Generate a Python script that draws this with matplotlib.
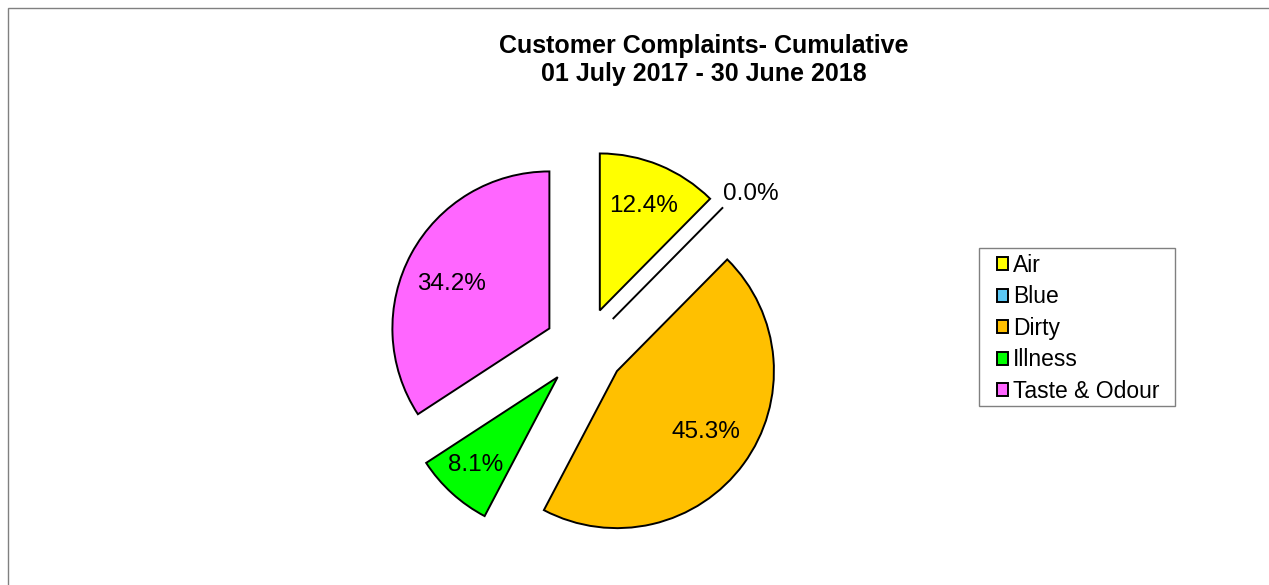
import numpy as np
import matplotlib.pyplot as plt
from matplotlib.patches import Rectangle

plt.rcParams['font.family'] = ['Liberation Sans', 'DejaVu Sans']

categories = ["Air", "Blue", "Dirty", "Illness", "Taste & Odour"]
shares = [12.4, 0.0, 45.3, 8.1, 34.2]
colours = ["#FFFF00", "#5BC8F5", "#FFC000", "#00FF00", "#FF66FF"]

fig = plt.figure(figsize=[12.69, 5.85], dpi=100)

# outer chart border (only top and left visible in the reference)
fig.patches.append(Rectangle((8 / 1269, -0.1), 2, (585 - 8) / 585 + 0.1,
                             transform=fig.transFigure, fill=False,
                             edgecolor="#808080", linewidth=1.0))

fig.text(704 / 1269, 1 - 46 / 585, "Customer Complaints- Cumulative",
         ha="center", va="center", fontsize=18, fontweight="bold")
fig.text(704 / 1269, 1 - 74 / 585, "01 July 2017 - 30 June 2018",
         ha="center", va="center", fontsize=18, fontweight="bold")

ax = fig.add_axes([349.1 / 1269, 2 / 585, 471 / 1269, 471 / 585])
wedges, texts, autotexts = ax.pie(
    shares, colors=colours, startangle=90, counterclock=False,
    explode=[0.255] * len(shares), autopct="%1.1f%%", pctdistance=0.72,
    wedgeprops=dict(edgecolor="black", linewidth=1.4),
    textprops=dict(fontsize=17.5))
ax.set_xlim(-1.5, 1.5)
ax.set_ylim(-1.5, 1.5)

# label placement per slice, roughly as in the original
dists = [0.73, 1.19, 0.70, 0.76, 0.71]
nudges = [(0.0, -0.012), (0.045, -0.05), (0.005, 0.025), (-0.01, 0.0), (0.0, -0.057)]
for w, t, d, (dx, dy) in zip(wedges, autotexts, dists, nudges):
    ang = np.deg2rad((w.theta1 + w.theta2) / 2)
    cx, cy = w.center
    t.set_position((cx + d * np.cos(ang) + dx, cy + d * np.sin(ang) + dy))

# legend frame drawn separately so the padding can match the original
fig.patches.append(Rectangle((979 / 1269, 1 - 406 / 585), 196 / 1269, 158 / 585,
                             transform=fig.transFigure, fill=False,
                             edgecolor="#808080", linewidth=1.0))
leg = fig.legend(wedges, categories, loc="upper left",
                 bbox_to_anchor=(997 / 1269, 1 - 254 / 585),
                 fontsize=16.5, frameon=False,
                 handlelength=0.5, handleheight=0.5, handletextpad=0.2,
                 labelspacing=0.37, borderpad=0, borderaxespad=0)

fig.savefig("out.png", dpi=100)
